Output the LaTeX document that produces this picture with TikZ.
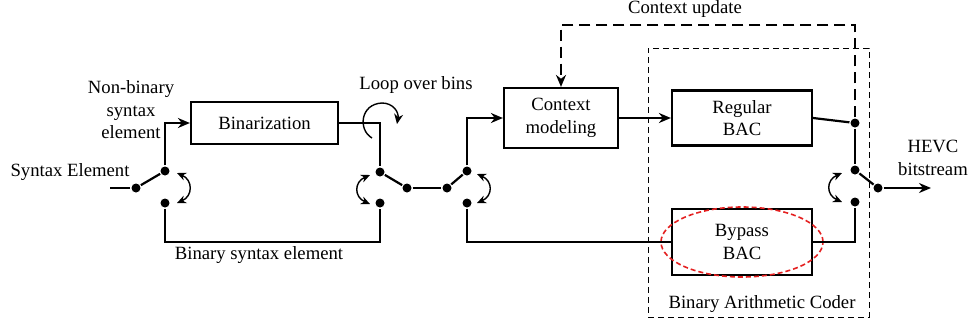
\documentclass[tikz,border=0pt]{standalone}
\usepackage{fontspec}
\setmainfont{Liberation Serif}
\usetikzlibrary{arrows.meta,shapes.geometric}
\begin{document}
\begin{tikzpicture}[x=1pt,y=-1pt,
  line width=2.2pt,
  font=\fontsize{18.7}{22.5}\selectfont,
  blk/.style={draw,line width=2.2pt,rectangle,inner sep=0,align=center},
  dot/.style={circle,fill,inner sep=0,minimum size=9pt},
  arr/.style={-{Stealth[length=12pt,width=10pt]}},
  sarr/.style={{Stealth[length=9pt,width=8pt]}-{Stealth[length=9pt,width=8pt]},line width=1.4pt},
  larr/.style={-{Stealth[length=10pt,width=9pt]},line width=1.4pt},
  lbl/.style={inner sep=0,align=center},
  cu/.style={line width=2.2pt,dash pattern=on 11pt off 6pt},
  bacbox/.style={draw,line width=1pt,dash pattern=on 6pt off 4pt,inner sep=0},
  redell/.style={draw=redc,ellipse,line width=1.6pt,dash pattern=on 5pt off 3pt,inner sep=0}]
\definecolor{redc}{RGB}{228,32,32}
\useasboundingbox (0,0) rectangle (972,325);

% dashed BAC frame
\node[bacbox,minimum width=221pt,minimum height=269pt] (bac) at (758.5,182.5) {};
\node[lbl] (baclbl) at (762,304) {Binary Arithmetic Coder};

% blocks
\node[blk,minimum width=147pt,minimum height=42pt] (bin) at (264.5,123) {Binarization};
\node[blk,minimum width=114pt,minimum height=60pt] (ctx) at (561,118) {Context\\modeling};
\node[blk,minimum width=140pt,minimum height=55pt] (reg) at (742,118) {Regular\\BAC};
\node[blk,minimum width=140pt,minimum height=66pt] (byp) at (742,242) {Bypass\\BAC};
\node[redell,minimum width=162pt,minimum height=70pt] (ell) at (742,242) {};

% switch dots
\node[dot] (d1in) at (136,188) {};
\node[dot] (d1a) at (165,171) {};
\node[dot] (d1b) at (165,203) {};
\node[dot] (d2a) at (380,172) {};
\node[dot] (d2b) at (380,203) {};
\node[dot] (d2m) at (407,188) {};
\node[dot] (d3m) at (447,188) {};
\node[dot] (d3a) at (467,171) {};
\node[dot] (d3b) at (467,203) {};
\node[dot] (d4a) at (855,123) {};
\node[dot] (d4s) at (855,170) {};
\node[dot] (d4b) at (855,202) {};
\node[dot] (d4o) at (878,188) {};

\coordinate (in) at (110,188);
\coordinate (c1) at (165,242);
\coordinate (out) at (931,188);
\coordinate (cuR) at (855,25);

% connectors
\draw (in) -- (d1in);
\draw (d1in) -- (d1a);
\draw[arr] (d1a) |- (bin.west);
\draw (d1b) -- (c1) -| (d2b);
\draw (bin.east) -| (d2a);
\draw (d2a) -- (d2m);
\draw (d2m) -- (d3m);
\draw (d3m) -- (d3a);
\draw[arr] (d3a) |- (ctx.west);
\draw (d3b) |- (byp.west);
\draw[arr] (ctx.east) -- (reg.west);
\draw (reg.east) -- (d4a);
\draw (d4a) -- (d4s);
\draw (d4s) -- (d4o);
\draw[arr] (d4o) -- (out);
\draw (byp.east) -| (d4b);
\draw[cu,arr] (d4a) -- (cuR) -| (ctx.north);

% switch arrows
\draw[sarr] (177,173) .. controls (193,180) and (193,196) .. (177,203);
\draw[sarr] (370,175) .. controls (354,182) and (354,197) .. (370,204);
\draw[sarr] (477,174) .. controls (493,181) and (493,196) .. (477,203);
\draw[sarr] (842,173) .. controls (826,180) and (826,195) .. (842,202);

% loop arrow
\draw[larr] (372,138) .. controls (358,130) and (360,104) .. (382,103) .. controls (393,103) and (399,112) .. (397,124);

% labels
\node[lbl] (selbl) at (70,172) {Syntax Element};
\node[lbl] (nblbl) at (131,110) {Non-binary\\syntax\\element};
\node[lbl] (looplbl) at (416,85) {Loop over bins};
\node[lbl] (bselbl) at (259,255) {Binary syntax element};
\node[lbl] (culbl) at (685,9) {Context update};
\node[lbl] (hevclbl) at (933,158) {HEVC\\bitstream};
\end{tikzpicture}
\end{document}
